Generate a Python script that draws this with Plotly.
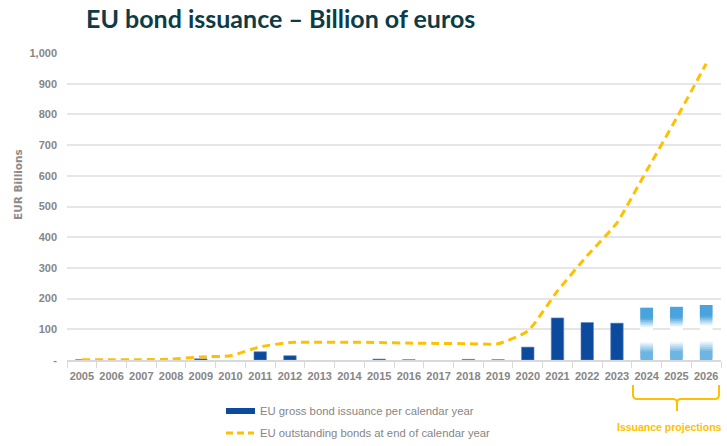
import plotly.graph_objects as go

years = [str(y) for y in range(2005, 2027)]
# EU gross bond issuance per calendar year (EUR bn)
issuance = [1, None, None, None, 4, None, 27, 14, None, None, 3, 1, None, 2, 1, 42, 137, 122, 120, None, None, None]
# Projected issuance (EUR bn)
proj_years = ["2024", "2025", "2026"]
proj_issuance = [170, 173, 179]
# EU outstanding bonds at end of calendar year (EUR bn)
outstanding = [1, 1, 1, 3, 10, 14, 43, 57, 58, 58, 57, 55, 54, 53, 53, 94, 225, 340, 447, 617, 787, 965]

y_ticks = [0, 100, 200, 300, 400, 500, 600, 700, 800, 900, 1000]
y_ticktext = ["-", "100", "200", "300", "400", "500", "600", "700", "800", "900", "1,000"]

W, H = 727, 446
L, R, T, B = 67, 6, 53, 86
PW, PH = W - L - R, H - T - B

def px(x):
    return (x - L) / PW

def py(y):
    return (H - B - y) / PH

SANS = "Liberation Sans, Arial"
GREY = "#868686"
BLUE = "#0b4a9c"
GOLD = "#FFC000"

fig = go.Figure()

fig.add_trace(go.Bar(
    x=years, y=issuance, width=0.42,
    marker=dict(color=BLUE, line=dict(color="#5b86c4", width=0.6)),
    showlegend=False, hoverinfo="skip",
))

# gradient projection bars (overlapping stacked slices)
N = 30
def alpha(f):
    if f < 0.15:
        return 0.8
    if f < 0.35:
        return 0.8 * (0.35 - f) / 0.2
    if f < 0.62:
        return 0.0
    if f < 0.8:
        return (f - 0.62) / 0.18
    return 1.0

top_rgb = (74, 163, 220)
for i in range(N):
    f = (i + 0.5) / N
    a = alpha(f)
    c = tuple(int(round(255 * (1 - a) + t * a)) for t in top_rgb)
    h = min(2.0 / N, 1 - i / N)
    fig.add_trace(go.Bar(
        x=proj_years,
        y=[v * h for v in proj_issuance],
        base=[v * i / N for v in proj_issuance],
        width=0.42,
        marker=dict(color="rgb(%d,%d,%d)" % c, line=dict(width=0)),
        showlegend=False, hoverinfo="skip",
    ))

fig.add_trace(go.Scatter(
    x=years, y=outstanding, mode="lines",
    line=dict(color=GOLD, width=3, dash="8px,5px", shape="spline", smoothing=0.5),
    showlegend=False, hoverinfo="skip",
))

shapes = []
# legend symbols
shapes.append(dict(type="rect", xref="paper", yref="paper",
                   x0=px(226), x1=px(255), y0=py(414), y1=py(408),
                   fillcolor=BLUE, line=dict(width=0)))
shapes.append(dict(type="line", xref="paper", yref="paper",
                   x0=px(226), x1=px(254), y0=py(433), y1=py(433),
                   line=dict(color=GOLD, width=3, dash="7px,4px")))
# bracket
pts = ("M {a},{b} L {a},{c} Q {a},{d} {e},{d} L {f},{d} Q {g},{d} {g},{h} L {g},{i} "
       "M {g},{h} Q {g},{d} {j},{d} L {k},{d} Q {m},{d} {m},{c} L {m},{b}")
path = pts.format(
    a=px(633), b=py(385), c=py(395), d=py(399), e=px(637), f=px(673),
    g=px(677), h=py(403), i=py(411), j=px(681), k=px(715), m=px(719))
shapes.append(dict(type="path", xref="paper", yref="paper", path=path,
                   line=dict(color=GOLD, width=2)))

annotations = [
    dict(text="EUR Billions", xref="paper", yref="paper", x=px(18), y=py(185),
         textangle=-90, showarrow=False, xanchor="center", yanchor="middle",
         font=dict(family="DejaVu Sans, Liberation Sans", size=10.5, color="#8c8c8c", weight="bold")),
    dict(text="EU gross bond issuance per calendar year", xref="paper", yref="paper",
         x=px(258), y=py(411), xanchor="left", yanchor="middle", showarrow=False,
         font=dict(family=SANS, size=11.3, color=GREY)),
    dict(text="EU outstanding bonds at end of calendar year", xref="paper", yref="paper",
         x=px(258), y=py(433), xanchor="left", yanchor="middle", showarrow=False,
         font=dict(family=SANS, size=11.3, color=GREY)),
    dict(text="Issuance projections", xref="paper", yref="paper",
         x=px(724), y=py(427), xanchor="right", yanchor="middle", showarrow=False,
         font=dict(family=SANS, size=10.5, color=GOLD, weight="bold")),
]

fig.update_layout(
    width=W, height=H,
    margin=dict(l=L, r=R, t=T, b=B, pad=0),
    paper_bgcolor="white", plot_bgcolor="white",
    barmode="overlay",
    title=dict(text="<b>EU bond issuance – Billion of euros</b>",
               x=86 / W, xanchor="left", xref="container",
               y=1 - 19 / H, yanchor="middle", yref="container",
               font=dict(family="Lato, Open Sans, sans-serif", size=25, color="#0d3c47")),
    shapes=shapes, annotations=annotations,
    showlegend=False,
)
fig.update_xaxes(
    type="category", categoryorder="array", categoryarray=years,
    range=[-0.5, 21.5],
    showgrid=False, showline=True, linecolor="#d9d9d9", linewidth=1.5,
    ticks="outside", tickson="boundaries", ticklen=6, tickcolor="#d9d9d9",
    tickangle=0, ticklabelstandoff=5,
    tickfont=dict(family=SANS, size=11, color=GREY, weight="bold"),
)
fig.update_yaxes(
    range=[0, 1000], tickvals=y_ticks, ticktext=y_ticktext,
    showgrid=True, gridcolor="#e6e6e6", gridwidth=1.5,
    zeroline=False, showline=False, ticks="",
    ticklabelstandoff=9,
    tickfont=dict(family=SANS, size=11, color=GREY, weight="bold"),
)

fig.write_html("out.html")
